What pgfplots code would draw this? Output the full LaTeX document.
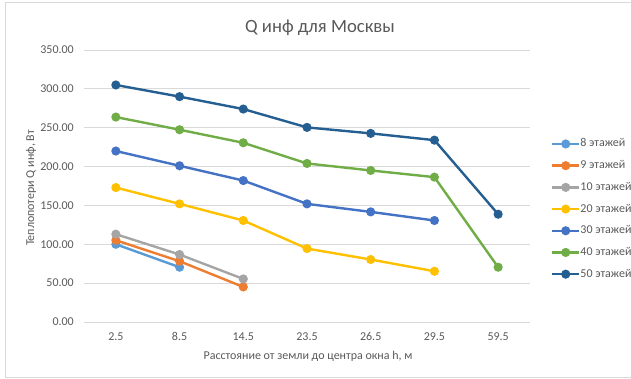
\documentclass[border=0pt]{standalone}
\usepackage{pgfplots}
\pgfplotsset{compat=1.18}
\usepackage{fontspec}
\setmainfont{Carlito}

\definecolor{txt}{HTML}{595959}
\definecolor{gridc}{HTML}{D9D9D9}
\definecolor{frame}{HTML}{D9D9D9}
\definecolor{s8}{HTML}{5B9BD5}
\definecolor{s9}{HTML}{ED7D31}
\definecolor{s10}{HTML}{A5A5A5}
\definecolor{s20}{HTML}{FFC000}
\definecolor{s30}{HTML}{4472C4}
\definecolor{s40}{HTML}{70AD47}
\definecolor{s50}{HTML}{255E91}

\begin{document}
\begin{tikzpicture}[x=1pt,y=1pt]
\useasboundingbox (0,0) rectangle (631,379);
% chart frame
\draw[frame, line width=0.8pt] (5,2) -- (5,377) -- (631,377);
\draw[frame, line width=0.8pt] (5,2) -- (631,2);

\begin{axis}[
  at={(84pt,57pt)}, anchor=south west,
  scale only axis, width=446pt, height=272pt,
  xmin=-0.5, xmax=6.5, ymin=0, ymax=350,
  xtick={0,1,2,3,4,5,6},
  xticklabels={2.5,8.5,14.5,23.5,26.5,29.5,59.5},
  ytick={0,50,...,350},
  yticklabel={\pgfmathprintnumber[fixed,fixed zerofill,precision=2]{\tick}},
  /pgf/number format/assume math mode=true,
  major tick length=0pt,
  axis line style={draw=none},
  ymajorgrids, grid style={gridc, line width=0.8pt},
  tick label style={font=\fontsize{12}{14}\selectfont, text=txt},
  yticklabel style={inner sep=0pt, xshift=-10pt},
  xticklabel style={inner sep=0pt, yshift=-10pt, text height=8pt, text depth=2pt},
  clip=false,
  every axis plot/.append style={line width=2.4pt, mark=*, mark size=3.3pt, mark options={solid}},
  legend cell align=left,
  legend image code/.code={\draw[mark repeat=2,mark phase=2] plot coordinates {(0pt,0pt) (13.5pt,0pt) (27pt,0pt)};},
  legend style={at={(1.040,0.681)}, anchor=north west, draw=none, fill=none,
    font=\fontsize{12}{14}\selectfont, text=txt,
    nodes={inner sep=0pt, text height=8pt, text depth=2pt},
    row sep=11.7pt,
    /tikz/every even column/.append style={column sep=2pt}},
]
\addplot[s8] coordinates {(0,100.0) (1,70.5)};
\addlegendentry{8 этажей}
\addplot[s9] coordinates {(0,105.2) (1,78.2) (2,45.1)};
\addlegendentry{9 этажей}
\addplot[s10] coordinates {(0,113.0) (1,86.8) (2,55.4)};
\addlegendentry{10 этажей}
\addplot[s20] coordinates {(0,173.0) (1,152.0) (2,130.6) (3,94.5) (4,80.4) (5,65.3)};
\addlegendentry{20 этажей}
\addplot[s30] coordinates {(0,220.0) (1,201.0) (2,182.0) (3,152.0) (4,141.7) (5,130.6)};
\addlegendentry{30 этажей}
\addplot[s40] coordinates {(0,263.7) (1,247.4) (2,230.6) (3,204.0) (4,195.0) (5,186.4) (6,70.5)};
\addlegendentry{40 этажей}
\addplot[s50] coordinates {(0,305.0) (1,290.0) (2,274.0) (3,250.4) (4,242.7) (5,234.0) (6,138.7)};
\addlegendentry{50 этажей}
\end{axis}

\node[text=txt, font=\fontsize{18.7}{22}\selectfont] at (320,351) {Q инф для Москвы};
\node[text=txt, font=\fontsize{12}{14}\selectfont, rotate=90] at (31,191) {Теплопотери Q инф, Вт};
\node[text=txt, font=\fontsize{12}{14}\selectfont] at (308,23) {Расстояние от земли до центра окна h, м};
\end{tikzpicture}
\end{document}
